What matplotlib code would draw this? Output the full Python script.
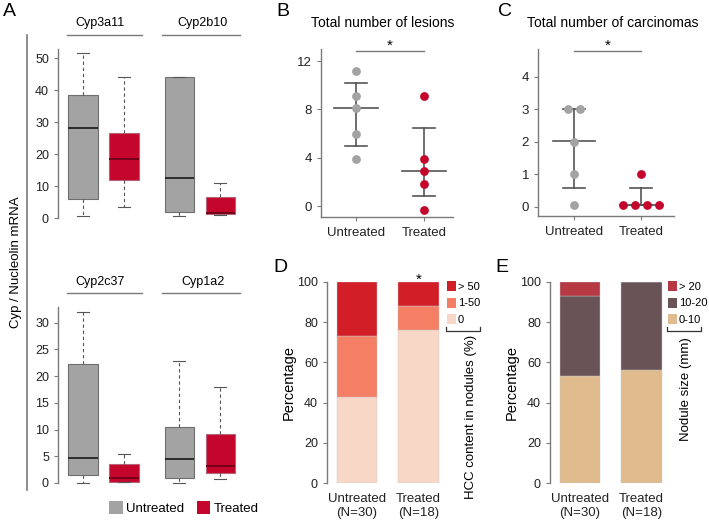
import matplotlib
matplotlib.use("Agg")
import matplotlib.pyplot as plt
from matplotlib.patches import Patch
from matplotlib.lines import Line2D

plt.rcParams['font.family'] = ['Liberation Sans', 'DejaVu Sans']

W, H = 709, 525

def fx(x):
    return x / W

def fy(y):
    return 1 - y / H

# ---- data ----
# panel A: box stats (low whisker, q1, median, q3, high whisker)
genes_top = ["Cyp3a11", "Cyp2b10"]
genes_bot = ["Cyp2c37", "Cyp1a2"]
groups = ["Untreated", "Treated"]
box_top = [
    [0.5, 6.0, 28.0, 38.5, 51.5],   # Cyp3a11 untreated
    [3.5, 12.0, 18.3, 26.5, 44.0],  # Cyp3a11 treated
    [0.5, 2.0, 12.5, 44.0, 44.0],   # Cyp2b10 untreated
    [1.0, 1.3, 1.5, 6.7, 11.0],     # Cyp2b10 treated
]
box_bot = [
    [0.0, 1.5, 4.7, 22.2, 32.0],    # Cyp2c37 untreated
    [0.1, 0.2, 1.0, 3.5, 5.5],      # Cyp2c37 treated
    [-0.1, 1.0, 4.5, 10.4, 22.8],   # Cyp1a2 untreated
    [0.8, 1.8, 3.2, 9.2, 18.0],     # Cyp1a2 treated
]

# panel B: total number of lesions
lesions_untreated = [11.2, 9.1, 8.1, 6.0, 3.9]
lesions_treated = [9.1, 3.9, 2.9, 1.8, -0.3]
lesions_center = [8.1, 2.9]
lesions_low = [5.0, 0.8]
lesions_high = [10.2, 6.5]

# panel C: total number of carcinomas
carc_untreated = [3, 3, 2, 1, 0.07]
carc_treated = [1, 0.07, 0.07, 0.07, 0.07]
carc_center = [2.03, 0.07]
carc_low = [0.57, 0.07]
carc_high = [3.0, 0.57]

# panel D: HCC content in nodules (%)
bar_labels = ["Untreated\n(N=30)", "Treated\n(N=18)"]
hcc_cats = ["0", "1-50", "> 50"]
hcc_vals = [[43, 76], [30, 12], [27, 12]]
hcc_colors = ["#f9d7c7", "#f47f65", "#d21f27"]

# panel E: nodule size (mm)
size_cats = ["0-10", "10-20", "> 20"]
size_vals = [[53, 56], [40, 44], [7, 0]]
size_colors = ["#dfbb8e", "#6a5357", "#b63842"]

gray = "#a3a3a3"
red = "#c4062c"
axcol = "#7a7a7a"

fig = plt.figure(figsize=(W / 100, H / 100), dpi=100)


def style_axis(ax, fs=8):
    for s in ["top", "right"]:
        ax.spines[s].set_visible(False)
    for s in ["left", "bottom"]:
        ax.spines[s].set_color(axcol)
        ax.spines[s].set_linewidth(1.0)
    ax.tick_params(colors=axcol, labelcolor="#222222", labelsize=fs, length=3, width=0.8)


def box_panel(rect, stats, ylim, yticks, bound):
    ax = fig.add_axes(rect)
    bx = []
    for s in stats:
        bx.append(dict(whislo=s[0], q1=s[1], med=s[2], q3=s[3], whishi=s[4], fliers=[]))
    pos = [1, 2, 3.35, 4.35]
    art = ax.bxp(bx, positions=pos, widths=0.72, patch_artist=True, showfliers=False,
                 capwidths=0.3,
                 whiskerprops=dict(color="#555555", linestyle=(0, (3, 2.5)), linewidth=0.8),
                 capprops=dict(color="#555555", linewidth=0.8),
                 medianprops=dict(color="#222222", linewidth=1.3))
    for i, b in enumerate(art["boxes"]):
        if i % 2 == 0:
            b.set_facecolor(gray)
            b.set_edgecolor("#6e6e6e")
        else:
            b.set_facecolor(red)
            b.set_edgecolor("#b5657a")
            art["medians"][i].set_color("#6c0018")
        b.set_linewidth(0.8)
    ax.set_xlim(0.39, 4.83)
    ax.set_ylim(*ylim)
    ax.set_yticks(yticks)
    style_axis(ax, 9)
    ax.spines["bottom"].set_visible(False)
    ax.spines["left"].set_bounds(0, bound)
    ax.set_xticks([])
    return ax


axA1 = box_panel([fx(58), fy(224.4), 182 / W, 179.2 / H], box_top, (-2, 54),
                 [0, 10, 20, 30, 40, 50], 52.8)
axA2 = box_panel([fx(58), fy(488.3), 182 / W, 184.3 / H], box_bot, (-1, 33.5),
                 [0, 5, 10, 15, 20, 25, 30], 33)

# gene headers
for names, ty, ly in [(genes_top, 23, 35), (genes_bot, 282, 293)]:
    for name, x0, x1, cx in zip(names, [67, 162], [142, 240], [100, 203]):
        fig.text(fx(cx), fy(ty), name, ha="center", va="center", fontsize=9)
        fig.add_artist(Line2D([fx(x0), fx(x1)], [fy(ly), fy(ly)], color=axcol, lw=1.0))

fig.add_artist(Line2D([fx(27), fx(27)], [fy(35), fy(490)], color=axcol, lw=1.2))
fig.text(fx(16), fy(262), "Cyp / Nucleolin mRNA", rotation=90, ha="center", va="center", fontsize=9.5)
fig.text(fx(9), fy(11), "A", ha="center", va="center", fontsize=14)

fig.legend(handles=[Patch(facecolor=gray, edgecolor="none", label=groups[0]),
                    Patch(facecolor=red, edgecolor="none", label=groups[1])],
           loc="center", bbox_to_anchor=(fx(184), fy(508)), ncol=2, frameon=False,
           fontsize=9.5, handlelength=1.0, handleheight=1.2, handletextpad=0.25,
           columnspacing=1.0)


def swarm(vals, step=0.18):
    offs = []
    for i, v in enumerate(vals):
        same = [j for j, w in enumerate(vals) if w == v]
        k = same.index(i)
        offs.append((k - (len(same) - 1) / 2) * step)
    return offs


def dot_panel(rect, ylim, xlim, yticks, pts, center, low, high, sig_y, star_y, title, tx, letter, lx):
    ax = fig.add_axes(rect)
    for i, (vals, col) in enumerate(zip(pts, [gray, red])):
        offs = swarm(vals)
        ax.scatter([i + 1 + o for o in offs], vals, s=40, color=col, zorder=3, linewidths=0)
    for i in range(2):
        ax.plot([i + 1 - 0.32, i + 1 + 0.32], [center[i], center[i]], color="#555555", lw=1.2, zorder=2)
        ax.plot([i + 1, i + 1], [low[i], high[i]], color="#555555", lw=1.2, zorder=2)
        for v in [low[i], high[i]]:
            ax.plot([i + 1 - 0.16, i + 1 + 0.16], [v, v], color="#555555", lw=1.2, zorder=2)
    ax.set_xlim(*xlim)
    ax.set_ylim(*ylim)
    ax.set_yticks(yticks)
    ax.set_xticks([1, 2])
    ax.set_xticklabels(groups)
    style_axis(ax, 9.5)
    ax.tick_params(axis="x", labelsize=9.5, pad=4)
    ax.plot([1, 2], [sig_y, sig_y], color=axcol, lw=1.0, clip_on=False)
    ax.text(1.5, star_y, "*", ha="center", va="center", fontsize=11, clip_on=False)
    fig.text(fx(tx), fy(23), title, ha="center", va="center", fontsize=10)
    fig.text(fx(lx), fy(11), letter, ha="center", va="center", fontsize=14)
    return ax


dot_panel([fx(321), fy(217), 132 / W, 168 / H], (-0.9, 13), (0.485, 2.43), [0, 4, 8, 12],
          [lesions_untreated, lesions_treated], lesions_center, lesions_low, lesions_high,
          12.83, 13.3, "Total number of lesions", 383, "B", 283)
dot_panel([fx(538), fy(216), 136 / W, 167 / H], (-0.28, 4.86), (0.463, 2.49), [0, 1, 2, 3, 4],
          [carc_untreated, carc_treated], carc_center, carc_low, carc_high,
          4.8, 4.97, "Total number of carcinomas", 613, "C", 505)


def bar_panel(x0, vals, cats, colors, leg_x, caption, cap_x, cap_top, letter, lx):
    ax = fig.add_axes([fx(x0), fy(483), 118 / W, 201 / H])
    bottom = [0, 0]
    handles = []
    for v, c, name in zip(vals, colors, cats):
        ax.bar([0, 1], v, bottom=bottom, width=0.66, color=c, edgecolor="#c8c8c8", linewidth=0.3)
        bottom = [b + x for b, x in zip(bottom, v)]
        handles.append(Patch(facecolor=c, edgecolor="none", label=name))
    ax.set_xlim(-0.49, 1.43)
    ax.set_ylim(0, 100)
    ax.set_yticks([0, 20, 40, 60, 80, 100])
    ax.set_xticks([0, 1])
    ax.set_xticklabels(bar_labels)
    style_axis(ax, 9)
    ax.spines["bottom"].set_visible(False)
    ax.tick_params(axis="x", length=0, labelsize=9.5, pad=7)
    ax.set_ylabel("Percentage", fontsize=10.5, labelpad=1)
    ax.legend(handles=handles[::-1], loc="upper left", bbox_to_anchor=(fx(leg_x), fy(281)),
              bbox_transform=fig.transFigure, frameon=False, fontsize=8,
              handlelength=0.85, handleheight=1.05, handletextpad=0.15, labelspacing=0.5,
              borderpad=0, borderaxespad=0)
    bx0, bx1 = leg_x - 1, leg_x + 33
    fig.add_artist(Line2D([fx(bx0), fx(bx0), fx(bx1), fx(bx1)],
                          [fy(327), fy(331), fy(331), fy(327)], color="#333333", lw=0.9))
    fig.text(fx(cap_x), fy(cap_top), caption, rotation=90, ha="center", va="top", fontsize=9.5)
    fig.text(fx(lx), fy(268), letter, ha="center", va="center", fontsize=14)
    return ax


axD = bar_panel(327, hcc_vals, hcc_cats, hcc_colors, 447, "HCC content in nodules (%)", 471, 335, "D", 280)
axD.text(1, 99, "*", ha="center", va="baseline", fontsize=11, clip_on=False)
bar_panel(550, size_vals, size_cats, size_colors, 668, "Nodule size (mm)", 686, 337, "E", 502)

fig.savefig("out.png", dpi=100)
